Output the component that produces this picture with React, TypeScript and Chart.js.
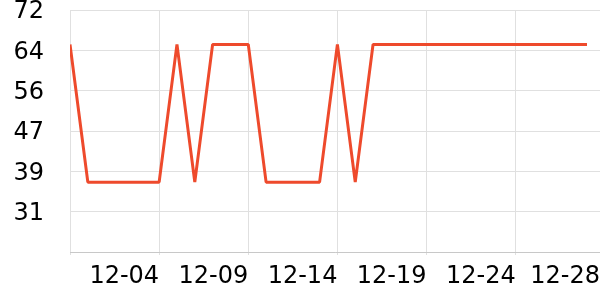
import React, { useEffect, useRef } from "react";
import { Chart, registerables } from "chart.js";

Chart.register(...registerables);

const dates = [
  "11-29", "11-30", "12-01", "12-02", "12-03", "12-04", "12-05", "12-06", "12-07", "12-08",
  "12-09", "12-10", "12-11", "12-12", "12-13", "12-14", "12-15", "12-16", "12-17", "12-18",
  "12-19", "12-20", "12-21", "12-22", "12-23", "12-24", "12-25", "12-26", "12-27", "12-28",
];

const values = [
  65, 37, 37, 37, 37, 37, 65, 37, 65, 65,
  65, 37, 37, 37, 37, 65, 37, 65, 65, 65,
  65, 65, 65, 65, 65, 65, 65, 65, 65, 65,
];

const xTickIndices = [0, 5, 10, 15, 20, 25];
const xMax = 29.73;

const yMin = 22.8;
const yMax = 72;
const yStep = 8.2;

const FONT = { family: "'DejaVu Sans', sans-serif", size: 24 };

const shiftYLabels = {
  id: "shiftYLabels",
  beforeDraw(chart: any) {
    const s = chart.scales.y;
    if (!s) return;
    const items = s.getLabelItems(chart.chartArea);
    items.forEach((it: any) => {
      if (it.__shifted) return;
      it.__shifted = true;
      const t = it.options.translation;
      it.options.translation = [t[0], t[1] + 2];
    });
  },
};

export default function App() {
  const ref = useRef<HTMLCanvasElement | null>(null);

  useEffect(() => {
    if (!ref.current) return;
    const yTicks: number[] = [];
    for (let i = 0; i <= Math.round((yMax - yMin) / yStep); i++) yTicks.push(yMin + i * yStep);
    const chart = new Chart(ref.current, {
      type: "line",
      data: {
        datasets: [
          {
            data: values.map((v, i) => ({ x: i, y: v })),
            borderColor: "#ee4a2c",
            borderWidth: 3,
            borderJoinStyle: "bevel",
            pointRadius: 0,
            tension: 0,
            fill: false,
          },
        ],
      },
      plugins: [shiftYLabels],
      options: {
        responsive: false,
        animation: false,
        layout: { padding: { top: 10, right: 0, bottom: 0, left: 0 } },
        plugins: { legend: { display: false }, tooltip: { enabled: false } },
        scales: {
          x: {
            type: "linear",
            min: 0,
            max: xMax,
            afterBuildTicks: (s: any) => {
              s.ticks = [...xTickIndices.map((v) => ({ value: v })), { value: xMax }];
            },
            afterFit: (s: any) => {
              s.height = 48;
              s.paddingLeft = 0;
              s.paddingRight = 0;
            },
            ticks: {
              autoSkip: false,
              maxRotation: 0,
              minRotation: 0,
              align: "end",
              padding: 7,
              color: "#000",
              font: FONT,
              callback: (v: any) => {
                if (v === 0) return "";
                if (v === xMax) return dates[dates.length - 1];
                return dates[v] ?? "";
              },
            },
            grid: {
              color: (ctx: any) => (ctx.tick && ctx.tick.value === xMax ? "rgba(0,0,0,0)" : "#e0e0e0"),
              tickLength: 3,
            },
            border: { color: "#c8c8c8" },
          },
          y: {
            min: yMin,
            max: yMax,
            afterBuildTicks: (s: any) => {
              s.ticks = yTicks.map((v) => ({ value: v }));
            },
            afterFit: (s: any) => {
              s.width = 70;
              s.paddingTop = 0;
              s.paddingBottom = 0;
            },
            ticks: {
              padding: 26,
              color: "#000",
              font: FONT,
              callback: (v: any, i: number) => (i === 0 ? "" : String(Math.round(v))),
            },
            grid: { color: "#e0e0e0", drawTicks: false },
            border: { display: false },
          },
        },
      },
    });
    return () => chart.destroy();
  }, []);

  return (
    <div style={{ position: "fixed", left: 0, top: 0, width: 600, height: 300 }}>
      <canvas ref={ref} width={600} height={300} style={{ display: "block" }} />
    </div>
  );
}
